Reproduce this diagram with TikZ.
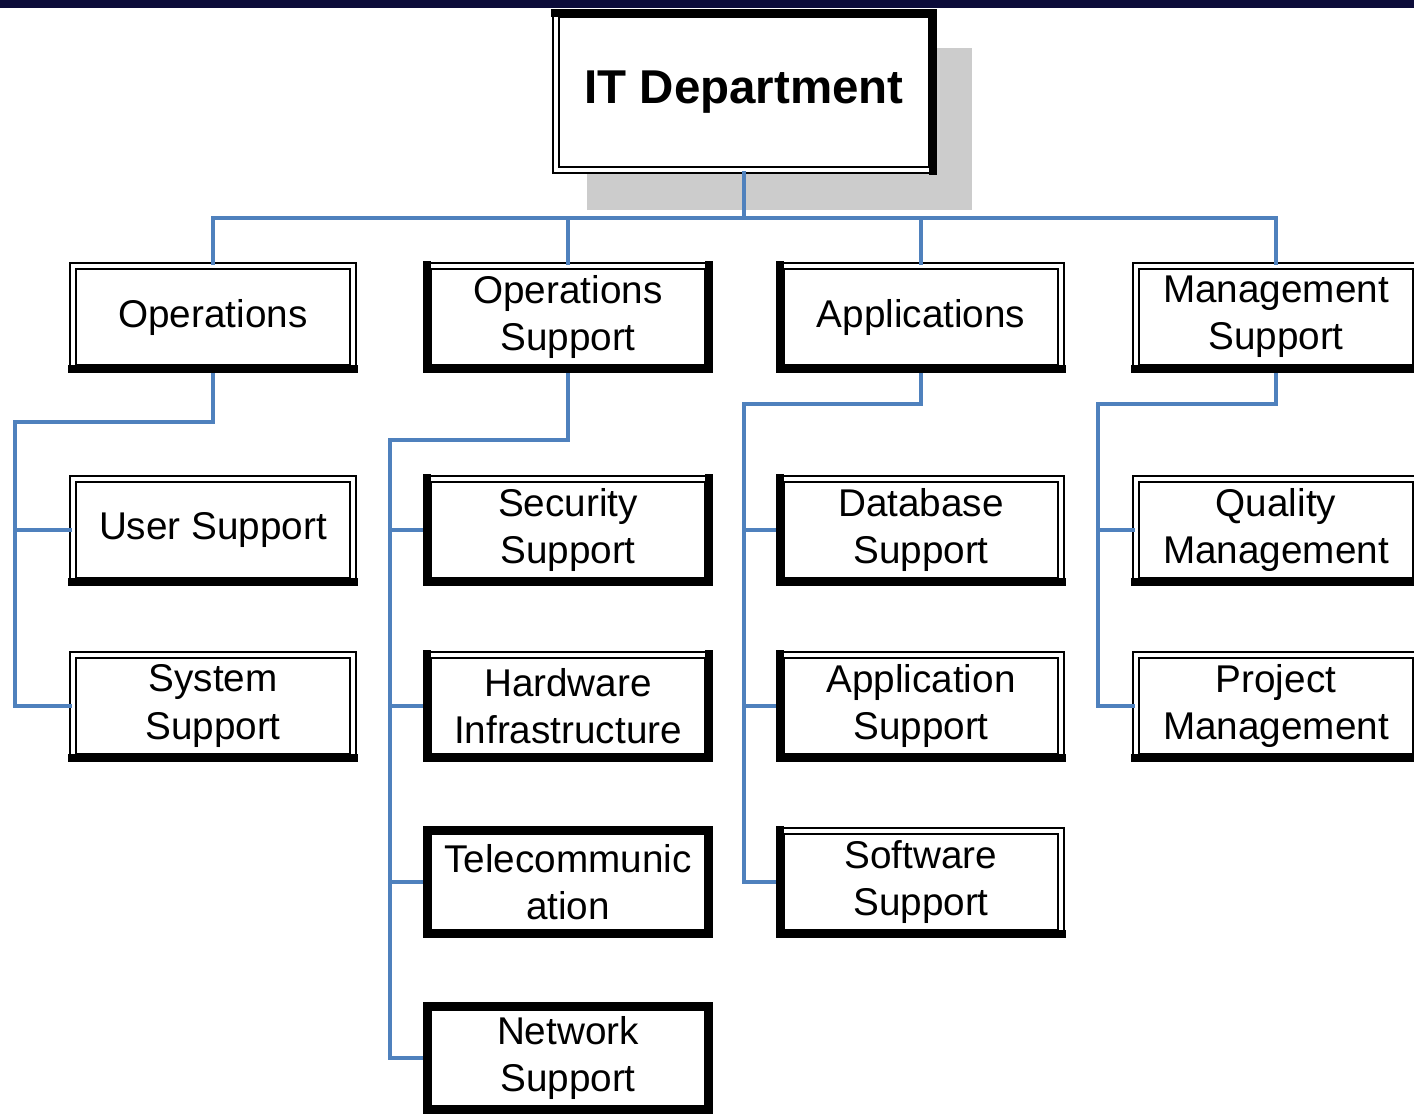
\documentclass[tikz,border=0pt]{standalone}
\usepackage{fontspec}
\setmainfont{Liberation Sans}
\usepackage{tikz}
\usetikzlibrary{calc, positioning}

\definecolor{barnavy}{RGB}{12,12,58}
\definecolor{linkblue}{RGB}{79,129,189}
\definecolor{shadegray}{RGB}{204,204,204}

\begin{document}
\begin{tikzpicture}[
		x=0.01cm, y=-0.01cm,
		unitbox/.style={draw, double, line width=0.6pt, double distance=1.1pt, fill=white,
			minimum width=2.8cm, minimum height=1.02cm, inner sep=1pt, align=center,
			font=\fontsize{11}{13.4}\selectfont},
		headbox/.style={unitbox, minimum width=3.76cm, minimum height=1.56cm,
			font=\fontsize{13.5}{16}\selectfont\bfseries},
		link/.style={draw=linkblue, line width=1.1pt},
		heavy/.style={line width=2.3pt, line cap=rect}
		]
	\useasboundingbox (0,0) rectangle (1414,1114);

	% --- bandeau et ombre ---
	\fill[barnavy] (0,0) rectangle (1414,8);
	\fill[shadegray] (587,48) rectangle (972,210);

	% --- sommet ---
	\node[headbox] (it) at (744,92) {IT Department};

	% --- premier niveau ---
	\node[unitbox] (ops) at (213,317) {Operations};
	\node[unitbox] (opsup) at (568,317) {Operations\\Support};
	\node[unitbox] (apps) at (921,317) {Applications};
	\node[unitbox] (mgmt) at (1276,317) {Management\\Support};

	% --- deuxième niveau ---
	\node[unitbox] (user) at (213,530) {User Support};
	\node[unitbox] (sys) at (213,706) {System\\Support};

	\node[unitbox] (sec) at (568,530) {Security\\Support};
	\node[unitbox] (hw) at (568,706) {Hardware\\Infrastructure};
	\node[unitbox] (tel) at (568,882) {Telecommunic\\ation};
	\node[unitbox] (net) at (568,1058) {Network\\Support};

	\node[unitbox] (db) at (921,530) {Database\\Support};
	\node[unitbox] (appsup) at (921,706) {Application\\Support};
	\node[unitbox] (soft) at (921,882) {Software\\Support};

	\node[unitbox] (qual) at (1276,530) {Quality\\Management};
	\node[unitbox] (proj) at (1276,706) {Project\\Management};

	% --- liaisons ---
	\coordinate (bus) at (744,218);
	\draw[link] (it.south) -- (bus);
	\draw[link] (ops.north) |- (bus) -| (mgmt.north);
	\draw[link] (bus) -| (opsup.north);
	\draw[link] (bus) -| (apps.north);

	\coordinate (opsbend) at (15,422);
	\draw[link] (ops.south) |- (opsbend) |- (sys.west);
	\draw[link] (opsbend |- user.west) -- (user.west);

	\coordinate (supbend) at (390,440);
	\draw[link] (opsup.south) |- (supbend) |- (net.west);
	\draw[link] (supbend |- sec.west) -- (sec.west);
	\draw[link] (supbend |- hw.west) -- (hw.west);
	\draw[link] (supbend |- tel.west) -- (tel.west);

	\coordinate (appbend) at (744,404);
	\draw[link] (apps.south) |- (appbend) |- (soft.west);
	\draw[link] (appbend |- db.west) -- (db.west);
	\draw[link] (appbend |- appsup.west) -- (appsup.west);

	\coordinate (mgmtbend) at (1098,404);
	\draw[link] (mgmt.south) |- (mgmtbend) |- (proj.west);
	\draw[link] (mgmtbend |- qual.west) -- (qual.west);

	% --- bords épais ---
	\draw[heavy] (it.north west) -- (it.north east) -- (it.south east);
	\foreach \n in {ops,opsup,apps,mgmt,user,sys,sec,hw,tel,net,db,appsup,soft,qual,proj}
		\draw[heavy] (\n.south west) -- (\n.south east);
	\foreach \n in {opsup,sec,hw,tel,net,apps,db,appsup,soft}
		\draw[heavy] (\n.south west) -- (\n.north west);
	\foreach \n in {opsup,sec,hw,tel,net}
		\draw[heavy] (\n.south east) -- (\n.north east);
	\foreach \n in {tel,net}
		\draw[heavy] (\n.north west) -- (\n.north east);

\end{tikzpicture}
\end{document}
